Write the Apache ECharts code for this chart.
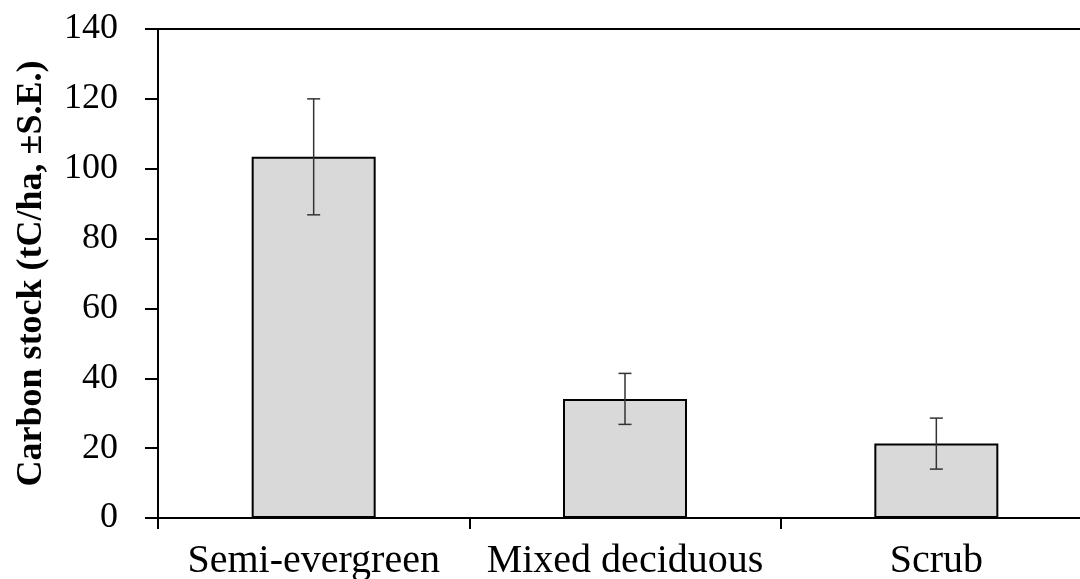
<!DOCTYPE html>
<html>
<head>
<meta charset="utf-8">
<script src="https://cdn.jsdelivr.net/npm/echarts@6/dist/echarts.min.js"></script>
<style>
html,body{margin:0;padding:0;background:#fff;}
#chart{width:1080px;height:579px;}
</style>
</head>
<body>
<div id="chart"></div>
<script>
const categories = ['Semi-evergreen', 'Mixed deciduous', 'Scrub'];
const carbonStock = [103.4, 34.1, 21.3];
const standardError = [16.6, 7.3, 7.3];
const yTicks = [0, 20, 40, 60, 80, 100, 120, 140];

const chart = echarts.init(document.getElementById('chart'));
const serif = '"Liberation Serif", "Times New Roman", serif';

const errorData = categories.map((c, i) => [i, carbonStock[i] - standardError[i], carbonStock[i] + standardError[i]]);

chart.setOption({
  animation: false,
  backgroundColor: '#fff',
  grid: {
    left: 158, top: 29, width: 934, height: 489,
    containLabel: false,
    outerBoundsMode: 'none',
    show: true, borderColor: '#000', borderWidth: 2, backgroundColor: 'transparent'
  },
  xAxis: {
    type: 'category',
    data: categories,
    axisLine: { lineStyle: { color: '#000', width: 2 } },
    axisTick: { show: true, length: 11, lineStyle: { color: '#000', width: 2 } },
    axisLabel: { color: '#000', fontFamily: serif, fontSize: 40, margin: 23, interval: 0, hideOverlap: false }
  },
  yAxis: {
    type: 'value',
    min: yTicks[0], max: yTicks[yTicks.length - 1], interval: 20,
    name: 'Carbon stock (tC/ha, ±S.E.)',
    nameLocation: 'middle',
    nameGap: 108,
    nameMoveOverlap: false,
    nameTextStyle: { color: '#000', fontFamily: serif, fontSize: 36, fontWeight: 'bold' },
    splitLine: { show: false },
    axisLine: { show: true, lineStyle: { color: '#000', width: 2 } },
    axisTick: { show: true, length: 13, lineStyle: { color: '#000', width: 2 } },
    axisLabel: { color: '#000', fontFamily: serif, fontSize: 36, margin: 40 }
  },
  series: [
    {
      type: 'bar',
      data: carbonStock,
      barWidth: 124,
      itemStyle: { color: '#d9d9d9', borderColor: '#000', borderWidth: 2 }
    },
    {
      type: 'custom',
      data: errorData,
      z: 10,
      renderItem: function (params, api) {
        const x = api.value(0);
        const lo = api.coord([x, api.value(1)]);
        const hi = api.coord([x, api.value(2)]);
        const hw = 6.5;
        const style = { stroke: '#333', lineWidth: 1.5 };
        return {
          type: 'group',
          children: [
            { type: 'line', shape: { x1: hi[0], y1: hi[1], x2: lo[0], y2: lo[1] }, style: style },
            { type: 'line', shape: { x1: hi[0] - hw, y1: hi[1], x2: hi[0] + hw, y2: hi[1] }, style: style },
            { type: 'line', shape: { x1: lo[0] - hw, y1: lo[1], x2: lo[0] + hw, y2: lo[1] }, style: style }
          ]
        };
      }
    }
  ]
});
</script>
</body>
</html>
